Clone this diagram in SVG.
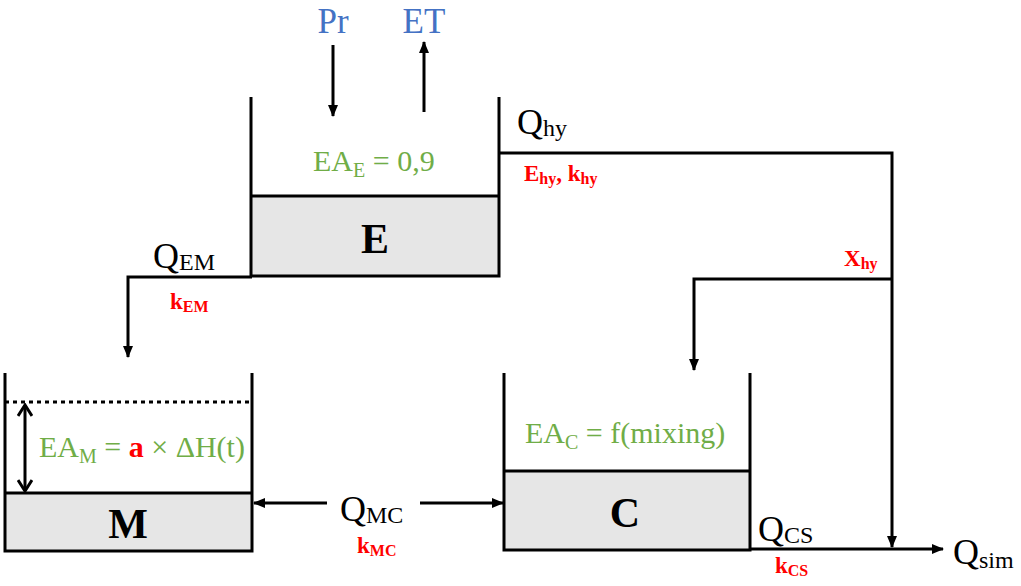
<svg xmlns="http://www.w3.org/2000/svg" width="1021" height="586" viewBox="0 0 1021 586">
<style>
.ln{fill:none;stroke:#000;stroke-width:3}
.gr{fill:#e6e6e6;stroke:none}
.arr{marker-end:url(#ah)}
.q{font-family:"Liberation Serif",serif;font-size:36px;fill:#000}
.qs{font-size:24px}
.red{font-family:"Liberation Serif",serif;font-size:23px;font-weight:bold;fill:#ff0000}
.rs{font-size:16px}
.grn{font-family:"Liberation Serif",serif;font-size:30px;fill:#70ad47}
.gs{font-size:20px}
.blu{font-family:"Liberation Serif",serif;font-size:35px;fill:#4472c4}
.big{font-family:"Liberation Serif",serif;font-size:42px;font-weight:bold;fill:#000}
</style>
<defs>
<marker id="ah" markerUnits="userSpaceOnUse" markerWidth="12" markerHeight="10" refX="11" refY="5" orient="auto">
<path d="M0,0 L12,5 L0,10 z" fill="#000"/>
</marker>
<marker id="oa" markerUnits="userSpaceOnUse" markerWidth="14" markerHeight="16" refX="12" refY="8" orient="auto-start-reverse">
<path d="M1,1 L12,8 L1,15" fill="none" stroke="#000" stroke-width="3"/>
</marker>
</defs>

<g id="inputs">
<text class="blu" x="333" y="33" text-anchor="middle">Pr</text>
<text class="blu" x="424" y="33" text-anchor="middle">ET</text>
</g>

<g id="tank-E">
<rect class="gr" x="251" y="196" width="248" height="80"/>
<path class="ln" d="M251,97 V276 H499 V97"/>
<line class="ln" x1="251" y1="196" x2="499" y2="196"/>
<text class="grn" x="313" y="171">EA<tspan class="gs" dy="6">E</tspan><tspan dy="-6"> = 0,9</tspan></text>
<text class="big" x="375" y="253" text-anchor="middle">E</text>
</g>

<g id="tank-M">
<rect class="gr" x="5" y="493" width="247" height="58"/>
<path class="ln" d="M5,373 V551 H252 V373"/>
<line class="ln" x1="5" y1="493" x2="252" y2="493"/>
<line x1="5" y1="402" x2="252" y2="402" stroke="#000" stroke-width="3" stroke-dasharray="4,4"/>
<line x1="25" y1="405" x2="25" y2="491" stroke="#000" stroke-width="3" marker-start="url(#oa)" marker-end="url(#oa)"/>
<text class="grn" x="39" y="457">EA<tspan class="gs" dy="6">M</tspan><tspan dy="-6"> = </tspan><tspan fill="#ff0000" font-weight="bold">a</tspan> × ΔH(t)</text>
<text class="big" x="128" y="538" text-anchor="middle">M</text>
</g>

<g id="tank-C">
<rect class="gr" x="504" y="471" width="246" height="79"/>
<path class="ln" d="M504,373 V550 H750 V373"/>
<line class="ln" x1="504" y1="471" x2="750" y2="471"/>
<text class="grn" x="525" y="443">EA<tspan class="gs" dy="6">C</tspan><tspan dy="-6"> = f(mixing)</tspan></text>
<text class="big" x="625" y="527" text-anchor="middle">C</text>
</g>

<g id="connectors">
<line class="ln arr" x1="333" y1="45" x2="333" y2="116"/>
<line class="ln arr" x1="424" y1="112" x2="424" y2="42"/>
<path class="ln arr" d="M252,277 H128 V357"/>
<path class="ln arr" d="M499,153 H892 V547"/>
<path class="ln arr" d="M892,279 H694 V370"/>
<path class="ln arr" d="M750,549 H943"/>
<line class="ln arr" x1="327" y1="503" x2="254" y2="503"/>
<line class="ln arr" x1="420" y1="503" x2="503" y2="503"/>
</g>

<g id="labels">
<text class="q" x="153" y="268">Q<tspan class="qs" dy="2">EM</tspan></text>
<text class="red" x="170" y="309">k<tspan class="rs" dy="3">EM</tspan></text>
<text class="q" x="517" y="134">Q<tspan class="qs" dy="2">hy</tspan></text>
<text class="red" x="524" y="181">E<tspan class="rs" dy="3">hy</tspan><tspan dy="-3">, k</tspan><tspan class="rs" dy="3">hy</tspan></text>
<text class="red" x="844" y="266">X<tspan class="rs" dy="3">hy</tspan></text>
<text class="q" x="340" y="521">Q<tspan class="qs" dy="2">MC</tspan></text>
<text class="red" x="357" y="553">k<tspan class="rs" dy="3">MC</tspan></text>
<text class="q" x="758" y="541">Q<tspan class="qs" dy="2">CS</tspan></text>
<text class="red" x="775" y="573">k<tspan class="rs" dy="3">CS</tspan></text>
<text class="q" x="953" y="564">Q<tspan class="qs" dy="4">sim</tspan></text>
</g>
</svg>
